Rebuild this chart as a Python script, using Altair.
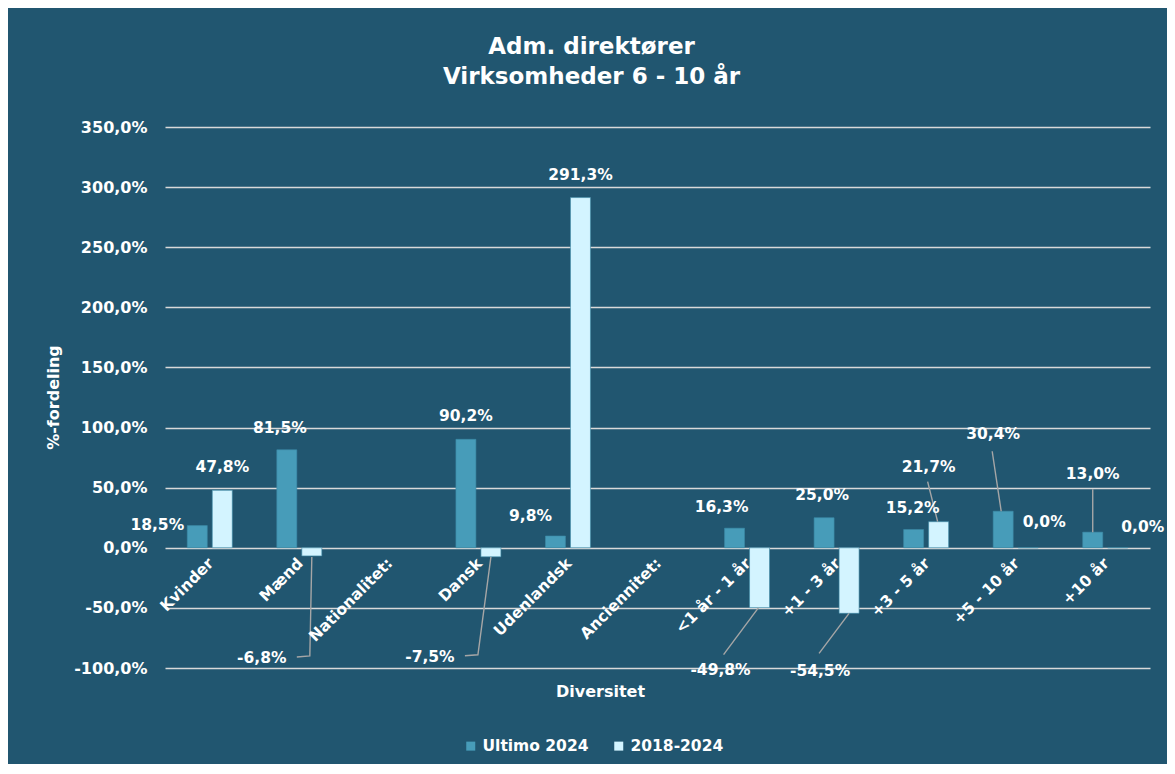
import altair as alt
import pandas as pd

# ---------------- data ----------------
categories = ["Kvinder", "Mænd", "Nationalitet:", "Dansk", "Udenlandsk", "Anciennitet:",
              "<1 år - 1 år", "+1 - 3 år", "+3 - 5 år", "+5 - 10 år", "+10 år"]
ultimo_2024 = [18.5, 81.5, None, 90.2, 9.8, None, 16.3, 25.0, 15.2, 30.4, 13.0]
change_2018_2024 = [47.8, -6.8, None, -7.5, 291.3, None, -49.8, -54.5, 21.7, 0.0, 0.0]
series_names = ["Ultimo 2024", "2018-2024"]
y_ticks = [-100, -50, 0, 50, 100, 150, 200, 250, 300, 350]
y_domain = [-100, 350]

# ---------------- style ----------------
BG = "#215670"
COLORS = ["#479CB9", "#D3F4FF"]
GRID = "#D9D9D9"
LEADER = "#A6A6A6"
FONT = "DejaVu Sans"
W, H = 985, 541
PX = W / len(categories)          # px per category
PY = H / (y_domain[1] - y_domain[0])  # px per percentage point
BAR_SHIFT = 12.5                  # px from category centre to bar centre
BAR_HALF = 10                     # half bar width in px

# label placement (px offset from bar end to label centre)
label_offsets = {
    ("Ultimo 2024", 0): (-40, -1), ("Ultimo 2024", 1): (-7, -22), ("Ultimo 2024", 3): (0, -23),
    ("Ultimo 2024", 4): (-25, -20), ("Ultimo 2024", 6): (-13, -21), ("Ultimo 2024", 7): (-2, -23),
    ("Ultimo 2024", 8): (-1, -22), ("Ultimo 2024", 9): (-10, -77), ("Ultimo 2024", 10): (0, -58),
    ("2018-2024", 0): (0, -23), ("2018-2024", 1): (-50, 102), ("2018-2024", 3): (-61, 100),
    ("2018-2024", 4): (0, -23), ("2018-2024", 6): (-39, 62), ("2018-2024", 7): (-29, 58),
    ("2018-2024", 8): (-10, -55), ("2018-2024", 9): (16, -26), ("2018-2024", 10): (25, -21),
}
# leader lines (px offsets from bar end)
leader_paths = {
    ("2018-2024", 1): [(0, 1), (-2, 100), (-15, 101)],
    ("2018-2024", 3): [(0, 0), (-13, 98), (-26, 99)],
    ("2018-2024", 6): [(-1, 0), (-36, 47)],
    ("2018-2024", 7): [(0, 0), (-30, 40)],
    ("2018-2024", 8): [(-1, 0), (-11, -40)],
    ("Ultimo 2024", 9): [(-2, 0), (-11, -60)],
    ("Ultimo 2024", 10): [(0, 0), (0, -43)],
}

def fmt(v):
    return f"{v:.1f}".replace(".", ",") + "%"

bar_rows, label_rows, leader_rows = [], [], []
for si, (sname, vals) in enumerate(zip(series_names, [ultimo_2024, change_2018_2024])):
    sign = -1 if si == 0 else 1
    for i, v in enumerate(vals):
        if v is None:
            continue
        xc = i + 0.5 + sign * BAR_SHIFT / PX
        bar_rows.append({"series": sname, "category": categories[i], "x1": xc - BAR_HALF / PX,
                         "x2": xc + BAR_HALF / PX, "value": v})
        dx, dy = label_offsets.get((sname, i), (0, -23 if v >= 0 else 23))
        label_rows.append({"x1": xc + dx / PX, "value": v - dy / PY, "label": fmt(v)})
        if (sname, i) in leader_paths:
            for k, (rx, ry) in enumerate(leader_paths[(sname, i)]):
                leader_rows.append({"id": f"{sname}-{i}", "k": k, "x1": xc + rx / PX,
                                    "value": v - ry / PY})

bars_df = pd.DataFrame(bar_rows)
labels_df = pd.DataFrame(label_rows)
leaders_df = pd.DataFrame(leader_rows)
cats_df = pd.DataFrame({"category": categories,
                        "x1": [i + 0.5 for i in range(len(categories))], "value": 0})

xscale = alt.Scale(domain=[0, len(categories)], nice=False, zero=False)
yscale = alt.Scale(domain=y_domain, nice=False)

x_axis = alt.Axis(
    title="Diversitet", labels=False, ticks=False, domain=False, grid=False,
    titleColor="white", titleFont=FONT, titleFontSize=16, titleFontWeight="bold",
    titleX=435, titleY=23, titleBaseline="middle")
y_axis = alt.Axis(
    values=y_ticks, grid=True, gridColor=GRID, gridWidth=1.5, domain=False, ticks=False,
    labelPadding=18, labelColor="white", labelFont=FONT, labelFontSize=16,
    labelFontWeight="bold",
    labelExpr="replace(replace(format(datum.value, '.1f'), '.', ','), '\u2212', '-') + '%'",
    title="%-fordeling", titleColor="white", titleFont=FONT, titleFontSize=16,
    titleFontWeight="bold", titleX=-112, titleY=270, titleBaseline="middle")

X = alt.X("x1:Q", scale=xscale, axis=x_axis)
Y = alt.Y("value:Q", scale=yscale, axis=y_axis)

bars = alt.Chart(bars_df).mark_bar(stroke="#3D8AA6", strokeWidth=0.6).encode(
    x=X,
    x2="x2:Q",
    y=Y,
    y2=alt.datum(0),
    color=alt.Color("series:N", scale=alt.Scale(domain=series_names, range=COLORS),
                    legend=alt.Legend(orient="none", legendX=298, legendY=611, direction="horizontal",
                                      title=None, symbolType="square", symbolSize=81,
                                      symbolStrokeWidth=0, labelColor="white", labelFont=FONT,
                                      labelFontSize=15.5, labelFontWeight="bold", columnPadding=22,
                                      labelOffset=4)),
)

leaders = alt.Chart(leaders_df).mark_line(color=LEADER, strokeWidth=1.4).encode(
    x=X, y=Y, detail="id:N", order="k:Q",
)

labels = alt.Chart(labels_df).mark_text(
    align="center", baseline="middle", font=FONT, fontSize=15.5, fontWeight="bold", color="white"
).encode(x=X, y=Y, text="label:N")

cat_labels = alt.Chart(cats_df).mark_text(
    angle=315, align="right", baseline="middle", font=FONT, fontSize=15.5, fontWeight="bold",
    color="white", dx=-8.5, dy=10
).encode(x=X, y=Y, text="category:N")

chart = alt.layer(bars, leaders, labels, cat_labels).properties(
    width=W, height=H,
    background=BG,
    padding={"left": 157, "top": 119, "right": 17, "bottom": 96},
    autosize=alt.AutoSizeParams(type="none"),
    title=alt.TitleParams(["Adm. direktører", "Virksomheder 6 - 10 år"], color="white", font=FONT,
                          fontSize=23, fontWeight="bold", anchor="middle", frame="group",
                          dx=-66, offset=30, lineHeight=30),
).configure_view(stroke=None)

chart.save("out.html", embed_options={"renderer": "svg", "actions": False})
